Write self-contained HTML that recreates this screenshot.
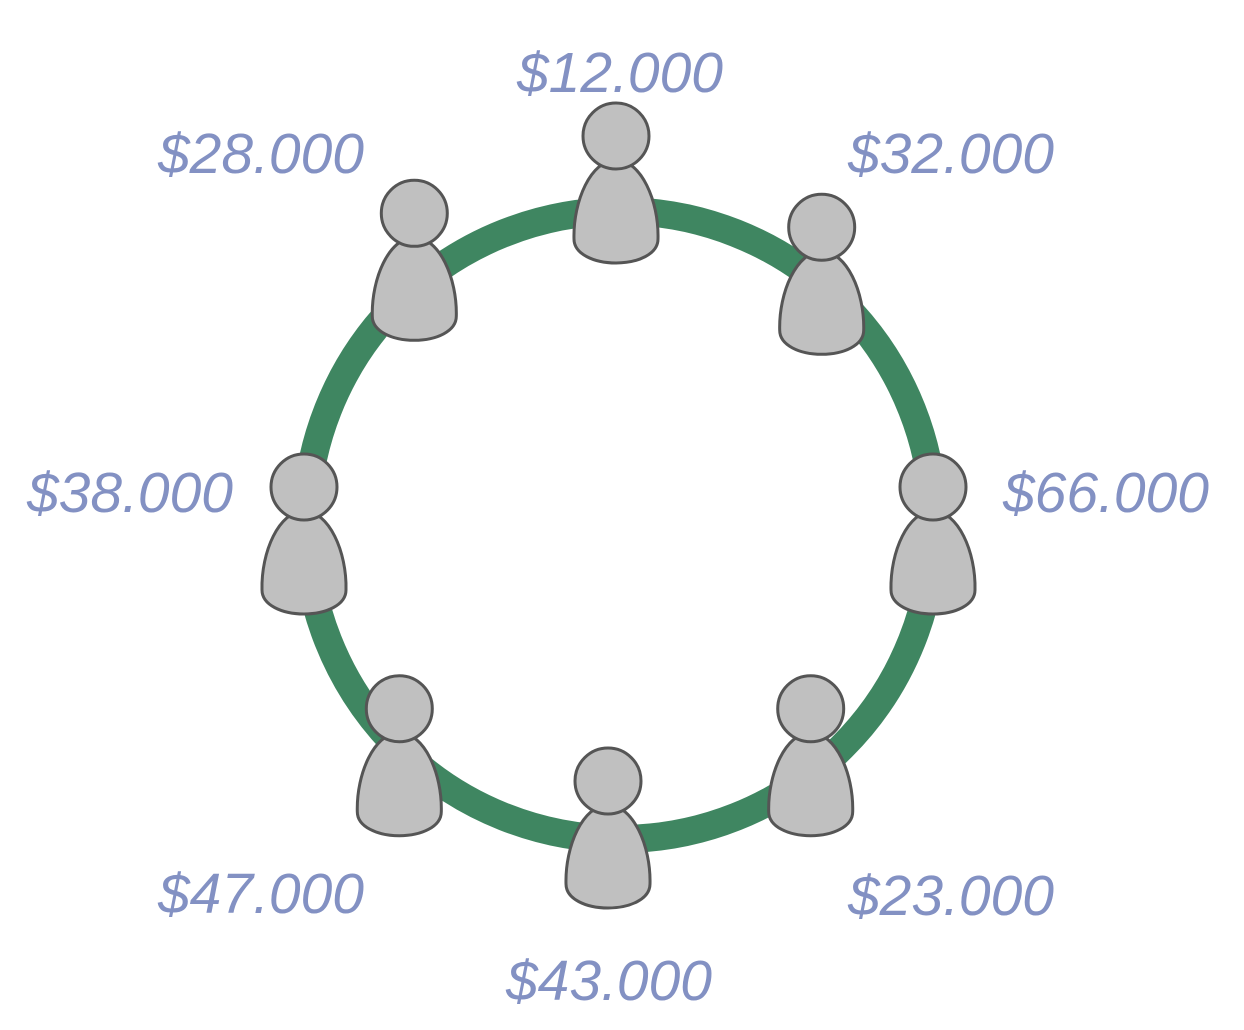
<!DOCTYPE html>
<html>
<head>
<meta charset="utf-8">
<style>
  html, body { margin: 0; padding: 0; background: #ffffff; }
  svg { display: block; }
  .lbl { font-family: "Liberation Sans", sans-serif; font-style: italic; font-size: 57px; fill: #8391c3; }
</style>
</head>
<body>
<svg id="chart" width="1244" height="1030" viewBox="0 0 1244 1030" xmlns="http://www.w3.org/2000/svg">
  <circle cx="620" cy="525" r="314" fill="none" stroke="#3f8661" stroke-width="28"/>
  <g id="people"></g>
  <g id="labels"></g>
</svg>
<script>
const labels = ["$12.000", "$32.000", "$66.000", "$23.000", "$43.000", "$47.000", "$38.000", "$28.000"];
const values = [12000, 32000, 66000, 23000, 43000, 47000, 38000, 28000];
const angles = [0, 45, 90, 135, 180, 225, 270, 315];

// layout tweaks (pixel nudges, not data)
const headDx = [-4, -21, -2, -32, -12, 2, -1, 17];
const headDy = [-14, -15, 22, 21, 1, 21, 22, -29];
const labelX = [620, 951, 1106, 951, 609, 261, 130, 261];
const labelY = [92, 173, 512, 915, 1000, 913, 512, 173];

const NS = "http://www.w3.org/2000/svg";
const cx = 620, cy = 525, R = 315;
const peopleG = document.getElementById("people");
const labelsG = document.getElementById("labels");

function fmt(v) {
  return "$" + Math.floor(v / 1000) + "." + String(v % 1000).padStart(3, "0");
}

for (let i = 0; i < values.length; i++) {
  const a = angles[i] * Math.PI / 180;
  const s = Math.sin(a), c = Math.cos(a);
  const hx = cx + R * s + headDx[i];
  const hy = cy - R * c - 60 + headDy[i];

  const g = document.createElementNS(NS, "g");
  
  
  g.setAttribute("transform", "translate(" + hx.toFixed(1) + "," + hy.toFixed(1) + ")");

  const body = document.createElementNS(NS, "path");
  
  
  body.setAttribute("d", "M -42 103 C -43 65 -25 24 0 24 C 25 24 43 65 42 103 C 42 118 22 127 0 127 C -22 127 -42 118 -42 103 Z");
  body.setAttribute("fill", "#c0c0c0");
  body.setAttribute("stroke", "#555555");
  body.setAttribute("stroke-width", "3");
  g.appendChild(body);

  const head = document.createElementNS(NS, "circle");
  
  
  head.setAttribute("cx", "0");
  head.setAttribute("cy", "0");
  head.setAttribute("r", "33");
  head.setAttribute("fill", "#c0c0c0");
  head.setAttribute("stroke", "#555555");
  head.setAttribute("stroke-width", "3");
  g.appendChild(head);
  peopleG.appendChild(g);

  const t = document.createElementNS(NS, "text");
  
  
  t.setAttribute("class", "lbl");
  t.setAttribute("x", labelX[i]);
  t.setAttribute("y", labelY[i]);
  t.setAttribute("text-anchor", "middle");
  t.textContent = labels[i] || fmt(values[i]);
  labelsG.appendChild(t);
}
</script>
</body>
</html>
